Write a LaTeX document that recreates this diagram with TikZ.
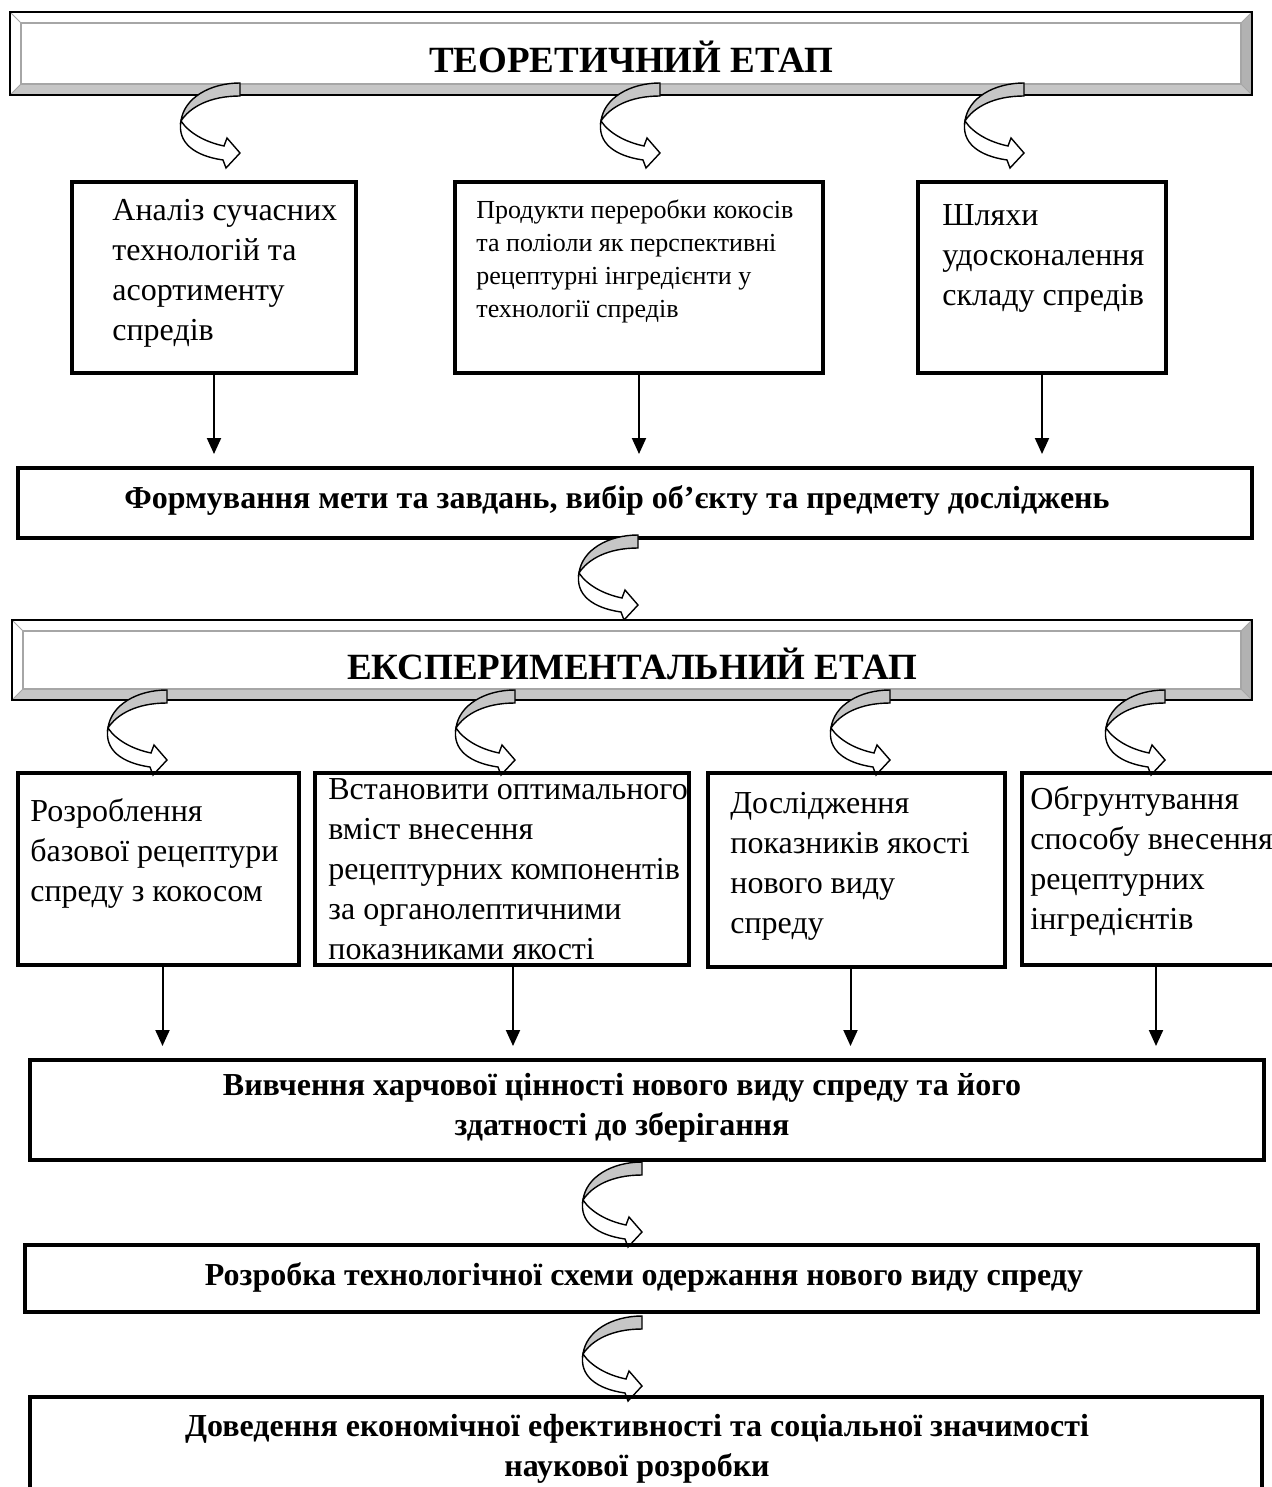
\documentclass[tikz,border=0pt]{standalone}
\usepackage{fontspec}
\setmainfont{Liberation Serif}
\usetikzlibrary{arrows.meta, positioning, calc}
\tikzset{
    box/.style={rectangle, draw, line width=2pt, inner sep=0pt},
    banner/.style={rectangle, draw, line width=1pt, inner sep=0pt, fill=white,
        font=\fontsize{18.5}{22}\selectfont\bfseries, text height=19pt, text depth=0pt,
        path picture={
            \fill[gray!45] (path picture bounding box.south west) -- (path picture bounding box.south east)
                -- ([xshift=-5.5pt,yshift=5.5pt]path picture bounding box.south east)
                -- ([xshift=5.5pt,yshift=5.5pt]path picture bounding box.south west) -- cycle;
            \fill[gray!60] (path picture bounding box.north east) -- (path picture bounding box.south east)
                -- ([xshift=-5.5pt,yshift=5.5pt]path picture bounding box.south east)
                -- ([xshift=-5.5pt,yshift=-5.5pt]path picture bounding box.north east) -- cycle;
            \draw[gray!70, line width=1.2pt] ([xshift=5.5pt,yshift=5.5pt]path picture bounding box.south west)
                rectangle ([xshift=-5.5pt,yshift=-5.5pt]path picture bounding box.north east);
            \draw[gray!70, line width=0.5pt] (path picture bounding box.north west) -- ++(5.5pt,-5.5pt)
                (path picture bounding box.south west) -- ++(5.5pt,5.5pt)
                (path picture bounding box.north east) -- ++(-5.5pt,-5.5pt)
                (path picture bounding box.south east) -- ++(-5.5pt,5.5pt);
        }},
    txt/.style={anchor=north west, inner sep=0pt, align=left, font=\fontsize{16}{20}\selectfont},
    bold/.style={inner sep=0pt, align=center, font=\fontsize{16}{20}\selectfont\bfseries},
    arrow/.style={-{Triangle[length=8pt, width=7pt]}, line width=1pt, shorten >=6pt},
    curl/.pic={
        \filldraw[fill=gray!45, line width=0.7pt] (0,0) .. controls (-30,0) and (-56,15) .. (-59,38)
            .. controls (-50,24) and (-30,13) .. (0,13) -- cycle;
        \filldraw[fill=white, line width=0.7pt] (-59,38) .. controls (-63,60) and (-45,73) .. (-17,77)
            -- (-14,85) -- (0,70) -- (-13,55) -- (-16,63) .. controls (-35,59) and (-51,50) .. (-59,38) -- cycle;
    },
}

\begin{document}
\begin{tikzpicture}[x=0.5pt, y=-0.5pt]
    \useasboundingbox (0,0) rectangle (1272,1487);

    % theoretical stage
    \node[banner, minimum width=621pt, minimum height=41.5pt] (teor) at (631,53.5) {ТЕОРЕТИЧНИЙ ЕТАП};
    \pic at (240,83) {curl};
    \pic at (660,83) {curl};
    \pic at (1024,83) {curl};

    \node[box, minimum width=142pt, minimum height=95.5pt] (t1) at (214,277.5) {};
    \node[box, minimum width=184pt, minimum height=95.5pt] (t2) at (639,277.5) {};
    \node[box, minimum width=124pt, minimum height=95.5pt] (t3) at (1042,277.5) {};
    \node[txt] (t1txt) at (112,199) {Аналіз сучасних\\технологій та\\асортименту\\спредів};
    \node[txt, font=\fontsize{13}{16.5}\selectfont] (t2txt) at (476,199) {Продукти переробки кокосів\\та поліоли як перспективні\\рецептурні інгредієнти у\\технології спредів};
    \node[txt] (t3txt) at (942,204) {Шляхи\\удосконалення\\складу спредів};

    \node[box, minimum width=617pt, minimum height=35pt] (form) at (635,503) {};
    \node[bold] (formtxt) at (617,500) {Формування мети та завдань, вибір об’єкту та предмету досліджень};
    \draw[arrow] (t1.south) -- (t1.south |- form.north);
    \draw[arrow] (t2.south) -- (t2.south |- form.north);
    \draw[arrow] (t3.south) -- (t3.south |- form.north);
    \pic at (638,535) {curl};

    % experimental stage
    \node[banner, minimum width=620pt, minimum height=40pt] (exper) at (632,660) {ЕКСПЕРИМЕНТАЛЬНИЙ ЕТАП};
    \pic at (167,690) {curl};
    \pic at (515,690) {curl};
    \pic at (890,690) {curl};
    \pic at (1165,690) {curl};

    \node[box, minimum width=140.5pt, minimum height=96pt] (e1) at (158.5,869) {};
    \node[box, minimum width=187pt, minimum height=96pt] (e2) at (502,869) {};
    \node[box, minimum width=148.5pt, minimum height=97pt] (e3) at (856.5,870) {};
    \node[box, minimum width=134pt, minimum height=96pt] (e4) at (1156,869) {};
    \node[txt] (e1txt) at (30,798) {Розроблення\\базової рецептури\\спреду з кокосом};
    \node[txt] (e2txt) at (328,778) {Встановити оптимального\\вміст внесення\\рецептурних компонентів\\за органолептичними\\показниками якості};
    \node[txt] (e3txt) at (730,792) {Дослідження\\показників якості\\нового виду\\спреду};
    \node[txt] (e4txt) at (1030,786) {Обгрунтування\\способу внесення\\рецептурних\\інгредієнтів};

    \node[box, minimum width=617pt, minimum height=50pt] (vyv) at (647,1110) {};
    \node[bold] (vyvtxt) at (622,1108) {Вивчення харчової цінності нового виду спреду та його\\здатності до зберігання};
    \draw[arrow] ([xshift=2pt]e1.south) -- ([xshift=2pt]e1.south |- vyv.north);
    \draw[arrow] ([xshift=5.5pt]e2.south) -- ([xshift=5.5pt]e2.south |- vyv.north);
    \draw[arrow] ([xshift=-3pt]e3.south) -- ([xshift=-3pt]e3.south |- vyv.north);
    \draw[arrow] (e4.south) -- (e4.south |- vyv.north);
    \pic at (642,1162) {curl};

    \node[box, minimum width=616.5pt, minimum height=33.5pt] (rozr) at (641.5,1278.5) {};
    \node[bold] (rozrtxt) at (644,1277) {Розробка технологічної схеми одержання нового виду спреду};
    \pic at (642,1316) {curl};

    \node[box, minimum width=616pt, minimum height=52pt] (dov) at (646,1449) {};
    \node[bold] (dovtxt) at (637,1449) {Доведення економічної ефективності та соціальної значимості\\наукової розробки};
\end{tikzpicture}
\end{document}
